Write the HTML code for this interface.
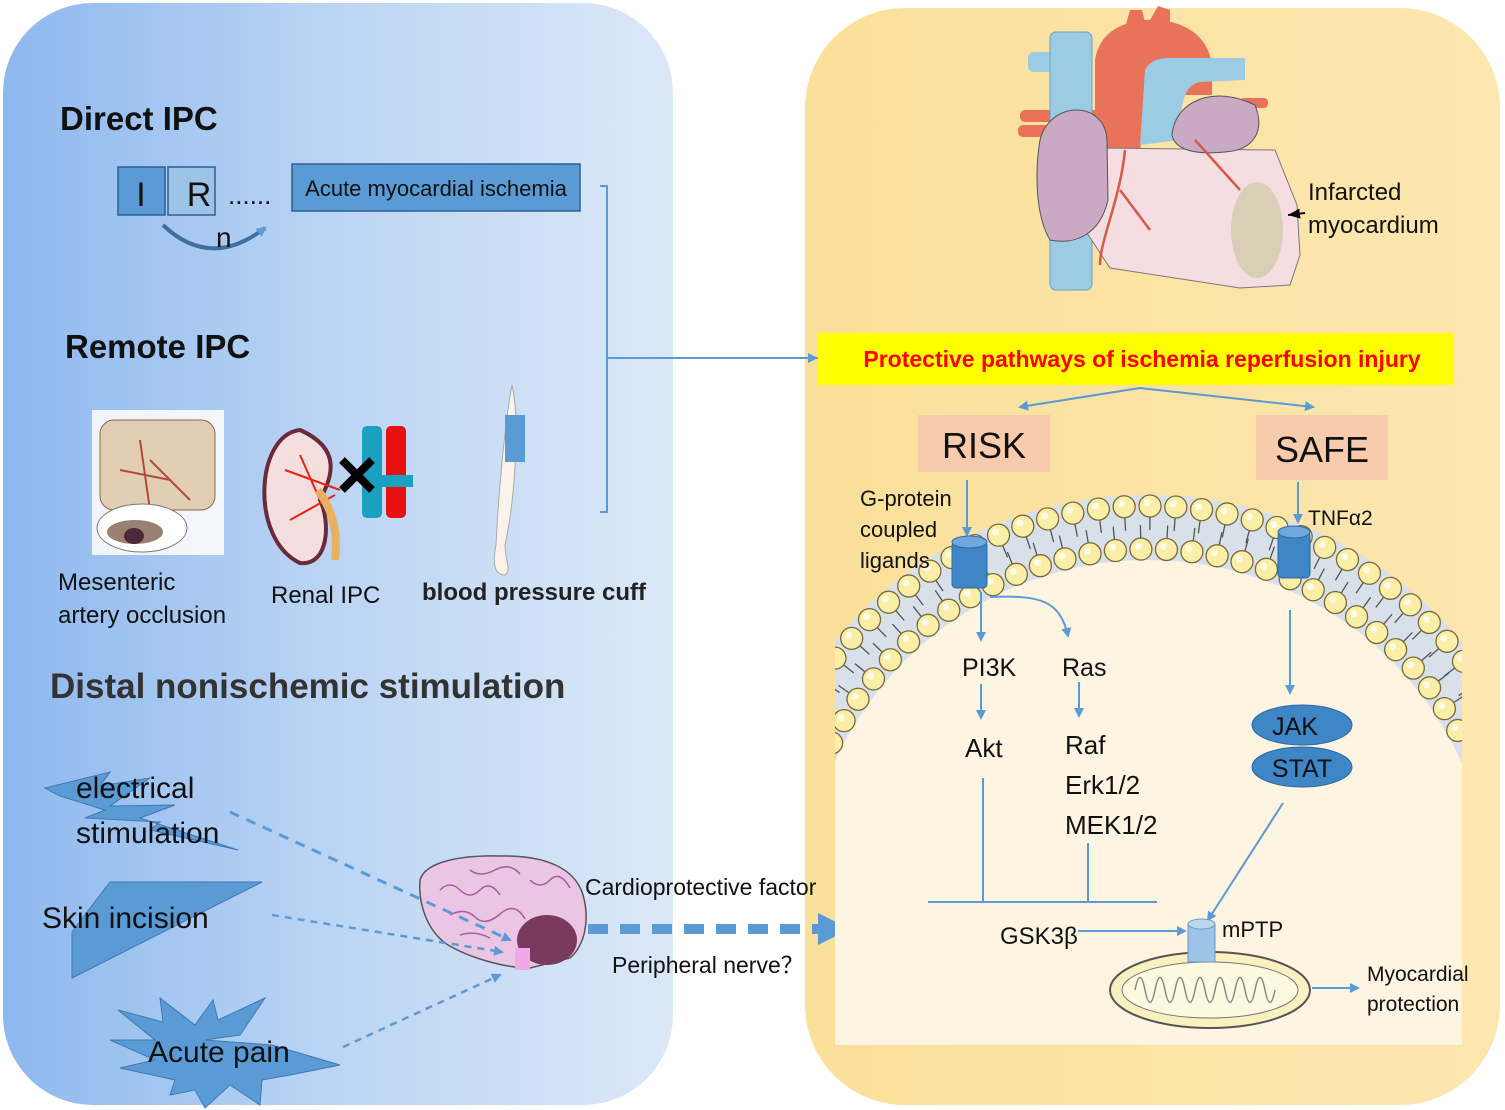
<!DOCTYPE html>
<html><head><meta charset="utf-8"><style>
html,body{margin:0;padding:0;background:#fff;width:1505px;height:1110px;overflow:hidden;}
svg{display:block;}
text{font-family:"Liberation Sans",sans-serif;}
</style></head><body>
<svg id="s" width="1505" height="1110" viewBox="0 0 1505 1110" xmlns="http://www.w3.org/2000/svg">
<defs>
<linearGradient id="lg" x1="0" x2="1" y1="0" y2="0"><stop offset="0" stop-color="#8db8ee"/><stop offset="0.5" stop-color="#bcd5f4"/><stop offset="1" stop-color="#dce8f8"/></linearGradient>
<linearGradient id="rg" x1="0" x2="1" y1="0" y2="0"><stop offset="0" stop-color="#fbe09a"/><stop offset="1" stop-color="#fde7b0"/></linearGradient>
<marker id="ah" markerWidth="10" markerHeight="10" refX="8" refY="5" orient="auto" markerUnits="userSpaceOnUse"><path d="M0,0 L10,5 L0,10 z" fill="#5b9bd5"/></marker>
<marker id="ahk" markerWidth="14" markerHeight="14" refX="12" refY="7" orient="auto" markerUnits="userSpaceOnUse"><path d="M0,2 L12,7 L0,12 z" fill="#000"/></marker>
<clipPath id="cell"><rect x="835" y="380" width="627" height="665"/></clipPath>
</defs>
<rect x="3" y="3" width="670" height="1102" rx="90" fill="url(#lg)"/>
<rect x="805" y="8" width="695" height="1097" rx="100" fill="url(#rg)"/>

<text x="60" y="130" font-size="33" font-weight="bold" fill="#111">Direct IPC</text>
<rect x="118" y="167" width="47" height="48" fill="#5b9bd5" stroke="#2e5f8f" stroke-width="1.5"/>
<rect x="168" y="167" width="47" height="48" fill="#9dc3e6" stroke="#2e5f8f" stroke-width="1.5"/>
<text x="141" y="206" font-size="34" text-anchor="middle" fill="#111">I</text>
<text x="199" y="206" font-size="34" text-anchor="middle" fill="#111">R</text>
<text x="228" y="204" font-size="26" fill="#111">......</text>
<path d="M163,225 Q210,270 265,228" fill="none" stroke="#3f6f9f" stroke-width="4" marker-end="url(#ah)"/>
<text x="216" y="247" font-size="28" fill="#111">n</text>
<rect x="292" y="164" width="288" height="47" fill="#5b9bd5" stroke="#2e5f8f" stroke-width="1.5"/>
<text x="436" y="196" font-size="22" text-anchor="middle" fill="#111">Acute myocardial ischemia</text>
<path d="M600,186 H607 V512 H600 M607,358 H826" fill="none" stroke="#5b9bd5" stroke-width="2"/>
<path d="M818,358 l-10,-5 v10z" fill="#5b9bd5"/>

<text x="65" y="358" font-size="33" font-weight="bold" fill="#111">Remote IPC</text>
<rect x="92" y="410" width="132" height="145" fill="#fbfbfb" opacity="0.9"/>
<rect x="100" y="420" width="115" height="90" rx="14" fill="#e2cfb3" stroke="#8a6a4a"/>
<path d="M140,440 L150,510 M150,460 L190,500 M120,470 L170,480" stroke="#b04a3a" stroke-width="2"/>
<ellipse cx="142" cy="528" rx="45" ry="24" fill="#fff" stroke="#777"/>
<ellipse cx="135" cy="532" rx="28" ry="12" fill="#9a8070"/>
<ellipse cx="134" cy="536" rx="10" ry="8" fill="#4a2a3a"/>
<text x="58" y="590" font-size="24" fill="#111">Mesenteric</text>
<text x="58" y="623" font-size="24" fill="#111">artery occlusion</text>
<path d="M300,430 C255,435 250,540 300,563 C330,566 330,520 320,500 C330,480 345,450 300,430z" fill="#f5dede" stroke="#6a2a3a" stroke-width="4"/>
<path d="M285,470 L340,490 M290,520 L335,495 M300,455 L320,500" stroke="#e21" stroke-width="2"/>
<path d="M318,490 Q340,520 335,560" stroke="#e8b060" stroke-width="8" fill="none"/>
<rect x="362" y="426" width="20" height="92" rx="5" fill="#1aa0c0"/>
<rect x="386" y="426" width="20" height="92" rx="5" fill="#e81010"/>
<rect x="380" y="475" width="33" height="12" fill="#1aa0c0"/>
<path d="M342,460 L372,490 M372,460 L342,490" stroke="#000" stroke-width="8"/>
<text x="271" y="603" font-size="24" fill="#111">Renal IPC</text>
<path d="M512,385 C520,420 515,500 505,545 C505,560 512,570 505,575 C495,575 492,565 496,545 C498,500 505,420 512,385z" fill="#fbf3ea" stroke="#aaa"/>
<rect x="505" y="415" width="20" height="47" fill="#5b9bd5"/>
<text x="422" y="600" font-size="24" font-weight="bold" fill="#222">blood pressure cuff</text>

<text x="50" y="698" font-size="35" font-weight="bold" fill="#333">Distal nonischemic stimulation</text>
<path d="M45,788 L110,772 L100,786 L150,778 L110,806 L175,805 L140,818 L238,850 L150,830 L160,822 L85,818 L105,810 L60,796z" fill="#5b9bd5" stroke="#3f79b0"/>
<text x="76" y="798" font-size="30" fill="#111">electrical</text>
<text x="76" y="843" font-size="30" fill="#111">stimulation</text>
<path d="M110,882 L262,882 L72,978 L72,932z" fill="#5b9bd5" stroke="#3f79b0"/>
<text x="42" y="928" font-size="30" fill="#111">Skin incision</text>
<path d="M118,1010 L163,1022 L160,998 L195,1025 L213,1000 L218,1020 L265,998 L240,1035 L205,1040 L272,1045 L340,1065 L290,1075 L262,1080 L260,1105 L230,1085 L205,1108 L195,1090 L170,1095 L175,1080 L120,1068 L155,1060 L110,1040 L155,1040z" fill="#5b9bd5" stroke="#3f79b0"/>
<text x="148" y="1062" font-size="30" fill="#111">Acute pain</text>
<path d="M420,880 C425,862 460,855 500,856 C545,855 575,868 583,895 C590,920 585,945 570,958 L530,968 C505,968 470,958 448,945 C428,932 418,905 420,880z" fill="#ebc6e4" stroke="#555" stroke-width="1.5"/>
<path d="M440,890 q10,-10 20,0 t20,0 t20,5 M450,915 q15,-8 25,2 t25,-3 t25,5 M470,870 q10,8 25,0 t25,4 M460,935 q15,-5 30,3 M530,880 q10,10 20,0 t20,8" stroke="#a060a0" fill="none" stroke-width="1.5"/>
<ellipse cx="547" cy="940" rx="30" ry="25" fill="#7a3a5e"/>
<rect x="515" y="948" width="15" height="22" fill="#f0a8e8"/>
<path d="M230,812 L510,940" stroke="#5b9bd5" stroke-width="3" stroke-dasharray="10,8" marker-end="url(#ah)"/>
<path d="M272,915 L502,952" stroke="#5b9bd5" stroke-width="2.5" stroke-dasharray="7,6" marker-end="url(#ah)"/>
<path d="M343,1047 L500,975" stroke="#5b9bd5" stroke-width="2.5" stroke-dasharray="7,6" marker-end="url(#ah)"/>
<path d="M588,929 L822,929" stroke="#5b9bd5" stroke-width="10" stroke-dasharray="20,12"/>
<path d="M818,913 L850,929 L818,945z" fill="#5b9bd5"/>
<text x="585" y="895" font-size="23" fill="#111">Cardioprotective factor</text>
<text x="612" y="973" font-size="23" fill="#111">Peripheral nerve？</text>

<!-- heart -->
<path d="M1095,150 L1095,60 C1100,28 1130,18 1160,20 C1195,24 1212,45 1212,70 L1212,95 L1150,95 L1140,150z" fill="#e8735a"/>
<path d="M1125,28 l5,-18 l12,0 l3,12 M1150,20 l8,-14 l12,4 l0,12" fill="#e8735a"/>
<rect x="1028" y="52" width="25" height="20" rx="6" fill="#9ccbe4"/>
<rect x="1020" y="110" width="80" height="12" rx="5" fill="#e8735a"/>
<rect x="1018" y="125" width="80" height="12" rx="5" fill="#e8735a"/>
<rect x="1240" y="98" width="28" height="10" rx="4" fill="#e8735a"/>
<rect x="1050" y="32" width="42" height="258" rx="6" fill="#9ccbe4" stroke="#6aa0c0"/>
<path d="M1100,148 L1275,150 L1297,205 L1300,255 L1290,285 L1240,288 L1110,268 L1085,230z" fill="#f6dde2" stroke="#777"/>
<path d="M1140,145 L1145,70 C1150,60 1160,58 1170,58 L1245,58 L1245,80 L1200,82 C1185,85 1180,100 1180,140z" fill="#9ccbe4"/>
<path d="M1172,135 C1175,100 1215,85 1255,105 C1265,130 1255,150 1225,152 C1195,155 1175,150 1172,135z" fill="#c9a9c4" stroke="#555"/>
<path d="M1040,140 C1050,100 1105,100 1107,140 L1108,200 C1100,235 1075,245 1050,240 C1035,215 1035,170 1040,140z" fill="#c9a9c4" stroke="#555"/>
<path d="M1125,150 C1120,200 1100,240 1100,265 M1120,190 L1150,230 M1195,140 L1240,190" stroke="#d65a4a" stroke-width="2.5" fill="none"/>
<ellipse cx="1257" cy="230" rx="26" ry="48" fill="#d8cfb6"/>
<path d="M1305,213 L1288,215" stroke="#000" stroke-width="2" marker-end="url(#ahk)"/>
<text x="1308" y="200" font-size="24" fill="#111">Infarcted</text>
<text x="1308" y="233" font-size="24" fill="#111">myocardium</text>

<rect x="818" y="333" width="635" height="52" fill="#ffff00"/>
<text x="1142" y="367" font-size="23" font-weight="bold" fill="#ff0000" text-anchor="middle">Protective pathways of ischemia reperfusion injury</text>
<path d="M1140,388 L1020,407" stroke="#5b9bd5" stroke-width="2" marker-end="url(#ah)"/>
<path d="M1140,388 L1313,407" stroke="#5b9bd5" stroke-width="2" marker-end="url(#ah)"/>
<rect x="918" y="415" width="132" height="57" fill="#f8cbad"/>
<text x="984" y="458" font-size="36" text-anchor="middle" fill="#111">RISK</text>
<rect x="1256" y="415" width="132" height="65" fill="#f8cbad"/>
<text x="1322" y="462" font-size="36" text-anchor="middle" fill="#111">SAFE</text>

<g clip-path="url(#cell)">
<circle cx="1148" cy="904" r="409" fill="#d8e1ea"/>
<circle cx="1148" cy="904" r="344" fill="#fdf4e2"/>
<rect x="835" y="900" width="627" height="150" fill="#fdf4e2"/>
</g>
<g id="heads" clip-path="url(#cell)"></g>

<path d="M967,480 L967,535" stroke="#5b9bd5" stroke-width="2" marker-end="url(#ah)"/>
<path d="M1298,482 L1298,522" stroke="#5b9bd5" stroke-width="2" marker-end="url(#ah)"/>
<g fill="#3f86c6" stroke="#2e6aa0">
<rect x="952" y="542" width="35" height="46" rx="4"/><ellipse cx="969.5" cy="542" rx="17.5" ry="6" fill="#6fa8dc"/>
<rect x="1278" y="532" width="32" height="46" rx="4"/><ellipse cx="1294" cy="532" rx="16" ry="6" fill="#6fa8dc"/>
</g>
<text x="860" y="506" font-size="22" fill="#111">G-protein</text>
<text x="860" y="537" font-size="22" fill="#111">coupled</text>
<text x="860" y="568" font-size="22" fill="#111">ligands</text>
<text x="1308" y="525" font-size="21" fill="#111">TNFα2</text>

<path d="M981,592 L981,640" stroke="#5b9bd5" stroke-width="2" marker-end="url(#ah)"/>
<path d="M990,597 C1040,595 1060,600 1068,636" stroke="#5b9bd5" stroke-width="2" fill="none" marker-end="url(#ah)"/>
<text x="962" y="676" font-size="25" fill="#111">PI3K</text>
<text x="1062" y="676" font-size="25" fill="#111">Ras</text>
<path d="M981,684 L981,718" stroke="#5b9bd5" stroke-width="2" marker-end="url(#ah)"/>
<path d="M1079,682 L1079,716" stroke="#5b9bd5" stroke-width="2" marker-end="url(#ah)"/>
<text x="965" y="757" font-size="26" fill="#111">Akt</text>
<text x="1065" y="754" font-size="26" fill="#111">Raf</text>
<text x="1065" y="794" font-size="26" fill="#111">Erk1/2</text>
<text x="1065" y="834" font-size="26" fill="#111">MEK1/2</text>
<path d="M1290,610 L1290,693" stroke="#5b9bd5" stroke-width="2" marker-end="url(#ah)"/>
<ellipse cx="1302" cy="725" rx="50" ry="20" fill="#3f86c6" stroke="#2e6aa0"/>
<ellipse cx="1302" cy="767" rx="50" ry="20" fill="#3f86c6" stroke="#2e6aa0"/>
<text x="1295" y="735" font-size="25" text-anchor="middle" fill="#111">JAK</text>
<text x="1302" y="777" font-size="25" text-anchor="middle" fill="#111">STAT</text>

<path d="M983,778 V902 M1088,843 V902 M928,902 H1157" stroke="#5b9bd5" stroke-width="2" fill="none"/>
<text x="1000" y="944" font-size="24" fill="#111">GSK3β</text>
<path d="M1078,931 L1185,931" stroke="#5b9bd5" stroke-width="2" marker-end="url(#ah)"/>
<path d="M1283,803 L1208,920" stroke="#5b9bd5" stroke-width="2" marker-end="url(#ah)"/>
<ellipse cx="1210" cy="990" rx="100" ry="38" fill="#fbf0c0" stroke="#555" stroke-width="2"/>
<ellipse cx="1210" cy="990" rx="88" ry="28" fill="#fdf8e0" stroke="#777"/>
<path d="M1135,990 q5,-25 10,0 q5,25 10,0 q5,-25 10,0 q5,25 10,0 q5,-25 10,0 q5,25 10,0 q5,-25 10,0 q5,25 10,0 q5,-25 10,0 q5,25 10,0 q5,-25 10,0 q5,25 10,0 q5,-25 10,0 q5,25 10,0" stroke="#888" fill="none" stroke-width="1.5"/>
<rect x="1188" y="924" width="27" height="38" fill="#9dc3e6" stroke="#6a9ac0"/>
<ellipse cx="1201.5" cy="924" rx="13.5" ry="5" fill="#bcd6ee" stroke="#6a9ac0"/>
<text x="1222" y="937" font-size="22" fill="#111">mPTP</text>
<path d="M1312,988 L1358,988" stroke="#5b9bd5" stroke-width="2" marker-end="url(#ah)"/>
<text x="1367" y="981" font-size="21" fill="#111">Myocardial</text>
<text x="1367" y="1011" font-size="21" fill="#111">protection</text>
</svg>
<script>
(function(){
 var g=document.getElementById('heads'),cx=1148,cy=904,out='';
 function ring(R,step,tailDir){
  for(var a=-Math.PI/2-1.1;a<=-Math.PI/2+1.1+1e-6;a+=step){
   var x=cx+R*Math.cos(a),y=cy+R*Math.sin(a);
   var tx=cx+(R+tailDir*24)*Math.cos(a),ty=cy+(R+tailDir*24)*Math.sin(a);
   out+='<line x1="'+x+'" y1="'+y+'" x2="'+tx+'" y2="'+ty+'" stroke="#555" stroke-width="1.3"/>';
   out+='<circle cx="'+x+'" cy="'+y+'" r="11" fill="#fbefa8" stroke="#7a6a3a" stroke-width="1.3"/>';
   out+='<circle cx="'+(x-3)+'" cy="'+(y-3)+'" r="3.5" fill="#fffbe8"/>';
  }
 }
 ring(398,0.065,-1);
 ring(355,0.072,1);
 g.innerHTML=out;
})();
</script>
</body></html>
